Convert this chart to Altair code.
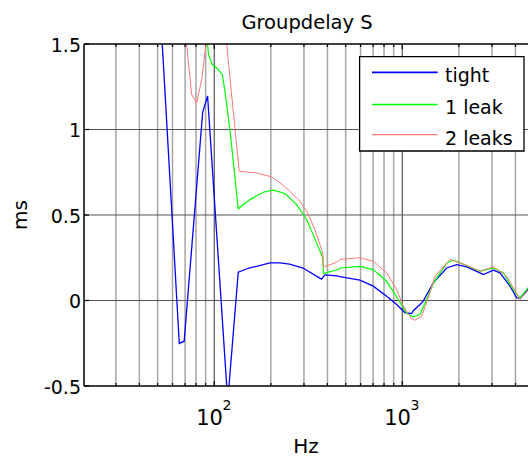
import altair as alt
import pandas as pd

# Frequencies (Hz) and group delay (ms) of the three configurations
tight_f = [20, 48.4, 65.2, 69.2, 86.8, 92.2, 118.0, 134.2, 153.0, 168.1,
           197.8, 223.7, 251.5, 296.4, 371.7, 388.1, 447.8, 466.3, 595.7, 701.1,
           826.0, 933.7, 1034, 1122, 1144, 1242, 1293, 1462, 1723, 1947,
           2201, 2590, 2697, 3048, 3309, 3741, 4060, 4228, 4664, 4800]
tight_v = [3.0, 2.25, -0.251, -0.238, 1.10, 1.196, -0.59, 0.166, 0.19, 0.2,
           0.22, 0.22, 0.213, 0.19, 0.125, 0.15, 0.144, 0.139, 0.119, 0.084,
           0.025, -0.023, -0.072, -0.076, -0.06, -0.023, -0.004, 0.103, 0.19, 0.21,
           0.197, 0.162, 0.152, 0.177, 0.162, 0.084, 0.016, 0.012, 0.064, 0.08]

leak1_f = [20, 80, 89.5, 93.3, 97.7, 103.9, 110.4, 114.0, 121.2, 134.2,
           154.9, 182.2, 206.0, 237.7, 274.4, 310.1, 350.5, 377.3, 381.0, 447.8,
           466.3, 595.7, 701.1, 826.0, 952.1, 1055, 1122, 1144, 1242, 1348,
           1462, 1723, 1868, 2201, 2590, 3048, 3445, 3895, 4228, 4664, 4800]
leak1_v = [3.5, 2.5, 1.65, 1.436, 1.38, 1.355, 1.322, 1.224, 1.0, 0.536,
           0.59, 0.633, 0.645, 0.626, 0.561, 0.474, 0.337, 0.25, 0.158, 0.178,
           0.19, 0.2, 0.181, 0.113, 0.006, -0.075, -0.092, -0.095, -0.082, 0.006,
           0.1, 0.22, 0.236, 0.205, 0.171, 0.19, 0.162, 0.064, 0.016, 0.074, 0.09]

leak2_f = [20, 67.1, 75.8, 80.6, 86.0, 95.0, 102.0, 108.5, 135.8, 168.1,
           202.0, 223.7, 252.7, 285.7, 310.1, 343.3, 372.7, 379.0, 381.0, 447.8,
           466.3, 595.7, 701.1, 826.0, 933.7, 1012, 1122, 1168, 1268, 1375,
           1493, 1794, 2201, 2590, 3048, 3593, 4228, 4664, 4800]
leak2_v = [3.5, 1.8, 1.205, 1.155, 1.298, 1.7, 1.95, 1.84, 0.756, 0.746,
           0.723, 0.688, 0.639, 0.58, 0.522, 0.415, 0.298, 0.26, 0.196, 0.223,
           0.24, 0.25, 0.23, 0.162, 0.064, -0.033, -0.108, -0.115, -0.092, 0.016,
           0.142, 0.24, 0.205, 0.171, 0.197, 0.142, 0.006, 0.06, 0.08]

series_names = ["tight", "1 leak", "2 leaks"]
series_colors = ["#0000ff", "#00ff00", "#ff7878"]
series_widths = [1.3, 1.2, 1.0]

# Axis ticks and grid positions
minor_f = [30, 40, 50, 60, 70, 80, 90, 200, 300, 400, 500, 600, 700, 800, 900,
           2000, 3000, 4000]
decade_f = [100, 1000]
decade_exp = ["2", "3"]
y_ticks = [-0.5, 0, 0.5, 1, 1.5]
y_grid = [0, 0.5, 1]

W, H = 444, 342
FONT = "DejaVu Sans"

xs = alt.Scale(type="log", domain=[20.3, 4663], nice=False)
ys = alt.Scale(domain=[-0.5, 1.5], nice=False)

curves = [(tight_f, tight_v), (leak1_f, leak1_v), (leak2_f, leak2_v)]

# Grid: light minor lines, darker decade lines and horizontal lines
minor_grid = alt.Chart(pd.DataFrame({"f": minor_f})).mark_rule(
    color="#a6a6a6", strokeWidth=1.5
).encode(x=alt.X("f:Q", scale=xs, axis=None))
decade_grid = alt.Chart(pd.DataFrame({"f": decade_f})).mark_rule(
    color="#333333", strokeWidth=1
).encode(x=alt.X("f:Q", scale=xs, axis=None))
h_grid = alt.Chart(pd.DataFrame({"v": y_grid})).mark_rule(
    color="#555555", strokeWidth=1
).encode(y=alt.Y("v:Q", scale=ys, axis=None))

layers = [minor_grid, decade_grid, h_grid]

# Inward ticks on the bottom and top edges
for fl, ln in [(minor_f, 3), (decade_f, 5)]:
    tdf = pd.DataFrame({"f": fl})
    layers.append(alt.Chart(tdf).mark_rule(color="black", strokeWidth=1.2).encode(
        x=alt.X("f:Q", scale=xs, axis=None), y=alt.value(H), y2=alt.value(H - ln)))
    layers.append(alt.Chart(tdf).mark_rule(color="black", strokeWidth=1.2).encode(
        x=alt.X("f:Q", scale=xs, axis=None), y=alt.value(0), y2=alt.value(ln)))

# Inward ticks on the left edge
layers.append(alt.Chart(pd.DataFrame({"v": y_ticks})).mark_rule(color="black", strokeWidth=1.2).encode(
    y=alt.Y("v:Q", scale=ys, axis=None), x=alt.value(0), x2=alt.value(5)))

# Curves
for (fl, vl), name, col, sw in zip(curves, series_names, series_colors, series_widths):
    cdf = pd.DataFrame({"f": fl, "v": vl, "series": name})
    layers.append(alt.Chart(cdf).mark_line(clip=True, color=col, strokeWidth=sw).encode(
        x=alt.X("f:Q", scale=xs, axis=None),
        y=alt.Y("v:Q", scale=ys, axis=None),
        order=alt.Order("f:Q"),
    ))

# Frame: left, top and bottom edges
frame = pd.DataFrame({"k": [0]})
layers.append(alt.Chart(frame).mark_rule(color="black", strokeWidth=1.5).encode(
    x=alt.value(0), x2=alt.value(W), y=alt.value(0)))
layers.append(alt.Chart(frame).mark_rule(color="black", strokeWidth=1.5).encode(
    x=alt.value(0), x2=alt.value(W), y=alt.value(H)))
layers.append(alt.Chart(frame).mark_rule(color="black", strokeWidth=1.5).encode(
    x=alt.value(0), y=alt.value(0), y2=alt.value(H)))

# Y tick labels
layers.append(alt.Chart(pd.DataFrame({"v": y_ticks})).mark_text(
    align="right", baseline="middle", font=FONT, fontSize=19, dx=-3, dy=1.5, color="black"
).encode(
    y=alt.Y("v:Q", scale=ys, axis=None), x=alt.value(0),
    text=alt.Text("lab:N"),
).transform_calculate(lab="toString(datum.v)"))

# X tick labels: 10 with superscript exponent
ddf = pd.DataFrame({"f": decade_f, "e": decade_exp, "b": ["10"] * len(decade_f)})
layers.append(alt.Chart(ddf).mark_text(
    align="right", baseline="alphabetic", font=FONT, fontSize=21, dx=8.7, color="black"
).encode(x=alt.X("f:Q", scale=xs, axis=None), y=alt.value(H + 39), text="b:N"))
layers.append(alt.Chart(ddf).mark_text(
    align="left", baseline="alphabetic", font=FONT, fontSize=14, dx=8.2, color="black"
).encode(x=alt.X("f:Q", scale=xs, axis=None), y=alt.value(H + 24), text="e:N"))

# Titles
layers.append(alt.Chart(pd.DataFrame({"t": ["Groupdelay S"]})).mark_text(
    align="center", baseline="alphabetic", font=FONT, fontSize=19.5, color="black"
).encode(x=alt.value(223), y=alt.value(-14.7), text="t:N"))
layers.append(alt.Chart(pd.DataFrame({"t": ["Hz"]})).mark_text(
    align="center", baseline="alphabetic", font=FONT, fontSize=20, color="black"
).encode(x=alt.value(222), y=alt.value(H + 67), text="t:N"))
layers.append(alt.Chart(pd.DataFrame({"t": ["ms"]})).mark_text(
    align="center", baseline="alphabetic", font=FONT, fontSize=20, angle=270, color="black"
).encode(x=alt.value(-57), y=alt.value(171), text="t:N"))

# Legend box with line samples
layers.append(alt.Chart(frame).mark_rect(fill="white", stroke="black", strokeWidth=1.3).encode(
    x=alt.value(275.6), x2=alt.value(440), y=alt.value(12.6), y2=alt.value(107)))
row_y = [28.4, 60.4, 90.7]
for name, col, sw, ry in zip(series_names, series_colors, series_widths, row_y):
    ldf = pd.DataFrame({"name": [name]})
    layers.append(alt.Chart(ldf).mark_rule(color=col, strokeWidth=sw + 0.3).encode(
        x=alt.value(288), x2=alt.value(353.7), y=alt.value(ry)))
    layers.append(alt.Chart(ldf).mark_text(
        align="left", baseline="alphabetic", font=FONT, fontSize=19, color="black"
    ).encode(x=alt.value(361), y=alt.value(ry + 10), text="name:N"))

chart = alt.layer(*layers).properties(
    width=W, height=H,
    autosize=alt.AutoSizeParams(type="none"),
    padding={"left": 84, "top": 44, "right": 0, "bottom": 71},
    background="white",
).configure_view(stroke=None)

chart.save("out.html", embed_options={"renderer": "svg", "actions": False})
